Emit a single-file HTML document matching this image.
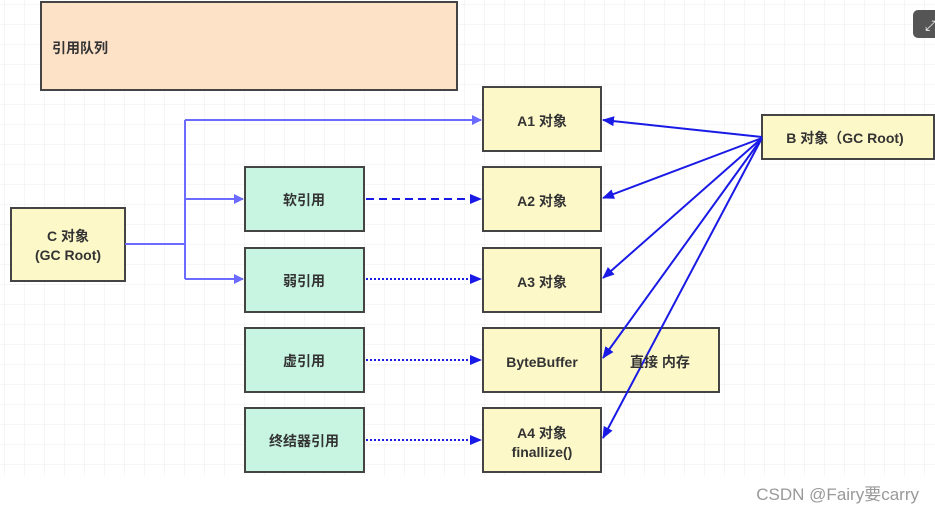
<!DOCTYPE html>
<html><head><meta charset="utf-8"><style>
body{margin:0;width:935px;height:513px;overflow:hidden;background:#fff;font-family:"Liberation Sans","Noto Sans CJK SC",sans-serif}
</style></head><body>
<svg width="935" height="513" xmlns="http://www.w3.org/2000/svg" style="position:absolute;left:0;top:0">
<defs>
<pattern id="g" width="20" height="20" patternUnits="userSpaceOnUse" x="5" y="5"><path d="M20 0V20H0" fill="none" stroke="#ececec" stroke-width="1"/></pattern>
<marker id="al" markerWidth="10" markerHeight="10" refX="9" refY="5" orient="auto" markerUnits="userSpaceOnUse"><path d="M0 0L10 5L0 10Z" fill="#6b6bff"/></marker>
<marker id="ad" markerWidth="12" markerHeight="10" refX="11" refY="5" orient="auto" markerUnits="userSpaceOnUse"><path d="M0 0L12 5L0 10Z" fill="#1a1ae6"/></marker>
</defs>
<rect x="0" y="0" width="935" height="476" fill="url(#g)"/>
<g font-weight="bold" font-size="14" fill="#333" text-anchor="middle" font-family="Liberation Sans, Noto Sans CJK SC, sans-serif" stroke="#444" stroke-width="2">
<rect x="41" y="2" width="416" height="88" fill="#fde2c8"/>
<rect x="11" y="208" width="114" height="73" fill="#fdf8c8"/>
<rect x="245" y="167" width="119" height="64" fill="#c8f5e2"/>
<rect x="245" y="248" width="119" height="64" fill="#c8f5e2"/>
<rect x="245" y="328" width="119" height="64" fill="#c8f5e2"/>
<rect x="245" y="408" width="119" height="64" fill="#c8f5e2"/>
<rect x="483" y="87" width="118" height="64" fill="#fdf8c8"/>
<rect x="483" y="167" width="118" height="64" fill="#fdf8c8"/>
<rect x="483" y="248" width="118" height="64" fill="#fdf8c8"/>
<rect x="483" y="328" width="118" height="64" fill="#fdf8c8"/>
<rect x="601" y="328" width="118" height="64" fill="#fdf8c8"/>
<rect x="483" y="408" width="118" height="64" fill="#fdf8c8"/>
<rect x="762" y="115" width="172" height="44" fill="#fdf8c8"/>
</g>
<g fill="none" stroke="#6b6bff" stroke-width="2">
<path d="M125 244H185M185 120V279"/>
<path d="M185 120H481" marker-end="url(#al)"/>
<path d="M185 199H243" marker-end="url(#al)"/>
<path d="M185 279H243" marker-end="url(#al)"/>
</g>
<g fill="none" stroke="#1a1ae6" stroke-width="2">
<path d="M366 199H481" stroke-dasharray="8 5" marker-end="url(#ad)"/>
<path d="M366 279H481" stroke-dasharray="2 2" marker-end="url(#ad)"/>
<path d="M366 360H481" stroke-dasharray="2 2" marker-end="url(#ad)"/>
<path d="M366 440H481" stroke-dasharray="2 2" marker-end="url(#ad)"/>
<path d="M762 137L603 120" marker-end="url(#ad)"/>
<path d="M762 138L603 198" marker-end="url(#ad)"/>
<path d="M762 138L603 278" marker-end="url(#ad)"/>
<path d="M762 138L603 358" marker-end="url(#ad)"/>
<path d="M762 138L603 438" marker-end="url(#ad)"/>
</g>
<g font-weight="bold" font-size="14" fill="#333" text-anchor="middle" font-family="Liberation Sans, Noto Sans CJK SC, sans-serif">
<text x="52" y="53" text-anchor="start">引用队列</text>
<text x="68" y="241">C 对象</text>
<text x="68" y="260">(GC Root)</text>
<text x="304" y="205">软引用</text>
<text x="304" y="286">弱引用</text>
<text x="304" y="366">虚引用</text>
<text x="304" y="446">终结器引用</text>
<text x="542" y="126">A1 对象</text>
<text x="542" y="206">A2 对象</text>
<text x="542" y="287">A3 对象</text>
<text x="542" y="367">ByteBuffer</text>
<text x="660" y="367">直接 内存</text>
<text x="542" y="438">A4 对象</text>
<text x="542" y="457">finallize()</text>
<text x="845" y="143">B 对象（GC Root)</text>
</g>
<rect x="913" y="10" width="30" height="28" rx="5" fill="#555"/>
<text x="925" y="30" font-size="14" fill="#fff" font-family="DejaVu Sans">⤢</text>
<text x="919" y="500" text-anchor="end" font-size="17" fill="#999" font-family="Liberation Sans, Noto Sans CJK SC, sans-serif">CSDN @Fairy要carry</text>
</svg>
</body></html>
